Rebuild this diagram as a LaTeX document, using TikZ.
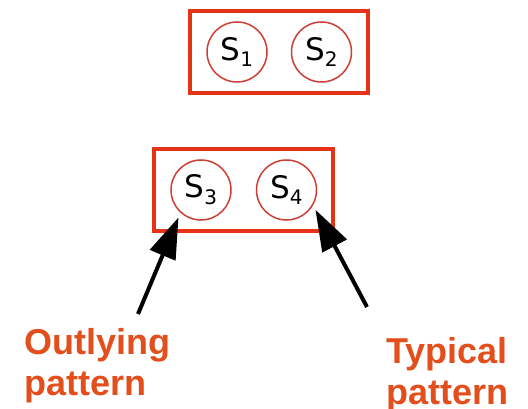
\documentclass[tikz,border=0pt]{standalone}
\usepackage{fontspec}
\setmainfont{Liberation Sans}
\newfontfamily\symfont{DejaVu Sans}
\usetikzlibrary{positioning,arrows.meta,fit}
\definecolor{boxred}{RGB}{230,50,22}
\definecolor{ringred}{RGB}{205,62,52}
\definecolor{labelred}{RGB}{226,78,28}
\tikzset{>={Triangle[length=41pt,width=27pt]}}
\tikzset{
	sym/.style={circle,draw=ringred,line width=1.5pt,minimum size=60pt,inner sep=0pt,
		font=\symfont\fontsize{31}{33}\selectfont},
	grp/.style={draw=boxred,line width=4pt,inner xsep=16pt,inner ysep=10pt},
	lbl/.style={text=labelred,font=\bfseries\fontsize{36}{41}\selectfont,align=left,inner sep=0pt,anchor=north west},
	pointer/.style={->,line width=4pt}
}
\newcommand{\symsub}[1]{S\raisebox{-0.22em}{\fontsize{20}{20}\selectfont #1}}

\begin{document}
\begin{tikzpicture}[x=1pt,y=-1pt]
	\useasboundingbox (0,0) rectangle (528,409);
	
	\node(s1) [sym] at (237,52)       {\symsub{1}};
	\node(s2) [sym,right=23pt of s1]  {\symsub{2}};
	\node(g1) [grp,fit=(s1)(s2)]      {};
	
	\node(s3) [sym] at (201,190)      {\symsub{3}};
	\node(s4) [sym,right=24pt of s3]  {\symsub{4}};
	\node(g2) [grp,fit=(s3)(s4)]      {};
	
	\node(out) [lbl] at (24,328)      {Outlying\\pattern};
	\node(typ) [lbl] at (386,337)     {Typical\\pattern};
	
	\coordinate (t1) at (138,314);
	\coordinate (t2) at (367,307);
	
	\draw[pointer,shorten >=5pt] (t1) -- (s3.228);
	\draw[pointer,shorten >=5pt] (t2) -- (s4.-30);
	
\end{tikzpicture}
\end{document}
